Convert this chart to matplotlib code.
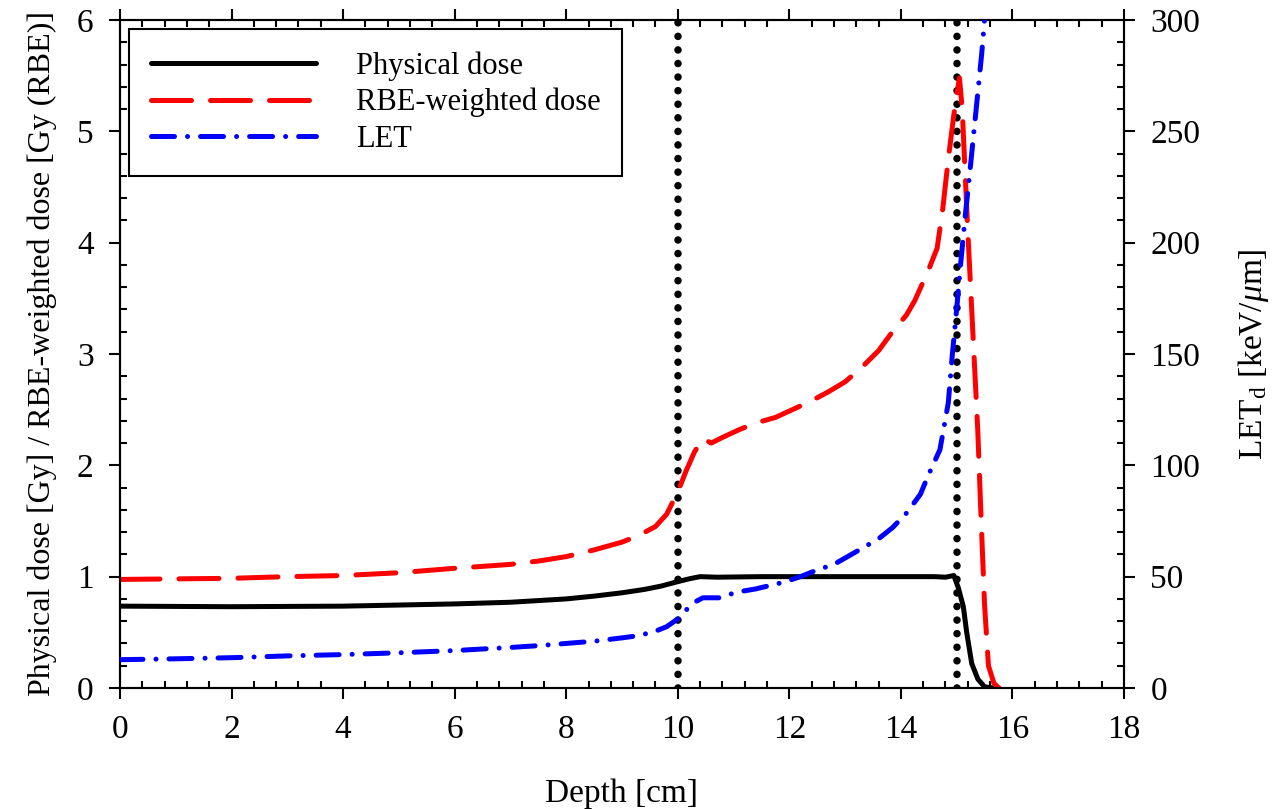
import matplotlib
matplotlib.use("Agg")
import matplotlib.pyplot as plt
from matplotlib.ticker import MultipleLocator

plt.rcParams['font.family'] = ['Liberation Serif', 'DejaVu Serif']
plt.rcParams['mathtext.fontset'] = 'custom'
plt.rcParams['mathtext.rm'] = 'Liberation Serif'
plt.rcParams['mathtext.it'] = 'Liberation Serif:italic'

# Physical dose [Gy] vs depth [cm]
depth_phys = [0, 2, 4, 5, 6, 7, 8, 8.5, 9, 9.4, 9.7, 10.0, 10.2, 10.4, 10.7,
              11.5, 12.5, 13.5, 14.3, 14.6, 14.8, 14.95, 15.03, 15.12, 15.18,
              15.27, 15.38, 15.5, 15.65]
phys_dose = [0.735, 0.73, 0.735, 0.745, 0.755, 0.77, 0.80, 0.825, 0.855, 0.885,
             0.915, 0.955, 0.98, 1.0, 0.995, 1.0, 1.0, 1.0, 1.0, 1.0, 0.995,
             1.01, 0.90, 0.73, 0.50, 0.22, 0.08, 0.01, 0.0]

# RBE-weighted dose [Gy (RBE)] vs depth [cm]
depth_rbe = [0, 1, 2, 3, 4, 5, 6, 7, 7.5, 8, 8.5, 9, 9.3, 9.6, 9.8, 10.0, 10.15,
             10.3, 10.45, 10.6, 10.8, 11.1, 11.4, 11.75, 12.1, 12.4, 12.7, 13.0,
             13.3, 13.6, 13.85, 14.1, 14.25, 14.5, 14.65, 14.75, 14.85, 14.95,
             15.05, 15.1, 15.2, 15.3, 15.38, 15.44, 15.5, 15.57, 15.67, 15.76]
rbe_dose = [0.975, 0.98, 0.985, 1.0, 1.01, 1.035, 1.075, 1.11, 1.14, 1.18, 1.24,
            1.31, 1.37, 1.45, 1.56, 1.76, 1.95, 2.12, 2.24, 2.2, 2.25, 2.32,
            2.38, 2.43, 2.51, 2.58, 2.66, 2.75, 2.88, 3.03, 3.2, 3.35, 3.48,
            3.76, 3.95, 4.3, 4.75, 5.15, 5.48, 5.2, 4.1, 3.1, 2.3, 1.5, 0.75,
            0.2, 0.04, 0.0]

# Dose-averaged LET [keV/um] vs depth [cm]
depth_let = [0, 1, 2, 3, 4, 5, 6, 7, 7.5, 8, 8.5, 9, 9.3, 9.6, 9.8, 10.0, 10.15,
             10.3, 10.45, 10.75, 11.05, 11.4, 11.9, 12.2, 12.5, 12.8, 13.15,
             13.6, 13.85, 14.1, 14.35, 14.5, 14.7, 14.85, 14.92, 15.0, 15.07,
             15.15, 15.25, 15.35, 15.45, 15.5]
let_d = [12.7, 13.1, 13.6, 14.4, 15.0, 15.8, 16.8, 18.2, 19.0, 20.0, 21.0, 22.5,
         23.5, 25.5, 27.5, 31.0, 35.0, 38.5, 40.5, 40.5, 43.0, 44.5, 47.5, 50.0,
         53.0, 55.5, 60.5, 67.0, 72.0, 78.5, 87.0, 96.0, 107.0, 128.0, 149.0,
         170.0, 190.0, 211.0, 235.0, 260.0, 285.0, 300.0]

# Target region boundaries [cm]
region_edges = [10, 15]

labels = ['Physical dose', 'RBE-weighted dose', 'LET']

fig = plt.figure(figsize=(12.79, 8.09), dpi=100)
ax = fig.add_axes([0.0938, 0.1496, 0.7850, 0.8257])
ax2 = ax.twinx()

for xe in region_edges:
    ax.axvline(xe, color='black', lw=5.4, linestyle=(0, (0.01, 1.8)),
               dash_capstyle='round', zorder=2)

lw = 3.6
l1, = ax.plot(depth_phys, phys_dose, color='black', lw=lw,
              solid_capstyle='round', solid_joinstyle='round', zorder=3)
l2, = ax.plot(depth_rbe, rbe_dose, color='#ff0000', lw=lw,
              linestyle=(0, (8.0, 3.8)), dash_capstyle='round',
              dash_joinstyle='round', zorder=3)
l3, = ax2.plot(depth_let, let_d, color='#0000ff', lw=lw,
               linestyle=(0, (4.6, 2.6, 0.01, 2.6)), dash_capstyle='round',
               dash_joinstyle='round', zorder=3)

ax.set_xlim(0, 18)
ax.set_ylim(0, 6)
ax2.set_ylim(0, 300)

ax.xaxis.set_major_locator(MultipleLocator(2))
ax.xaxis.set_minor_locator(MultipleLocator(0.4))
ax.yaxis.set_major_locator(MultipleLocator(1))
ax.yaxis.set_minor_locator(MultipleLocator(0.2))
ax2.yaxis.set_major_locator(MultipleLocator(50))
ax2.yaxis.set_minor_locator(MultipleLocator(10))

for a in (ax, ax2):
    for s in a.spines.values():
        s.set_linewidth(1.5)

ax.tick_params(which='major', direction='out', length=8, width=1.5,
               top=True, right=False, labelsize=24, pad=11)
ax.tick_params(which='minor', direction='in', length=5, width=1.5,
               top=True, right=False)
ax2.tick_params(which='major', direction='out', length=8, width=1.5,
                labelsize=24, pad=11)
ax2.tick_params(which='minor', direction='in', length=5, width=1.5)

ax.set_xlabel('Depth [cm]', fontsize=24, labelpad=24)
ax.set_ylabel('Physical dose [Gy] / RBE-weighted dose [Gy (RBE)]',
              fontsize=23, labelpad=14)
ax2.set_ylabel(r'LET$_\mathrm{d}$ [keV/$\mathit{\mu}$m]', fontsize=24,
               labelpad=26)

leg = ax.legend([l1, l2, l3], labels, loc='upper left', fontsize=22,
                frameon=True, fancybox=False, edgecolor='black',
                framealpha=1, handlelength=5.4, handletextpad=1.3,
                borderpad=0.72, labelspacing=0.24, borderaxespad=0.3)
leg.get_frame().set_linewidth(1.5)

fig.savefig('out.png', dpi=100)
